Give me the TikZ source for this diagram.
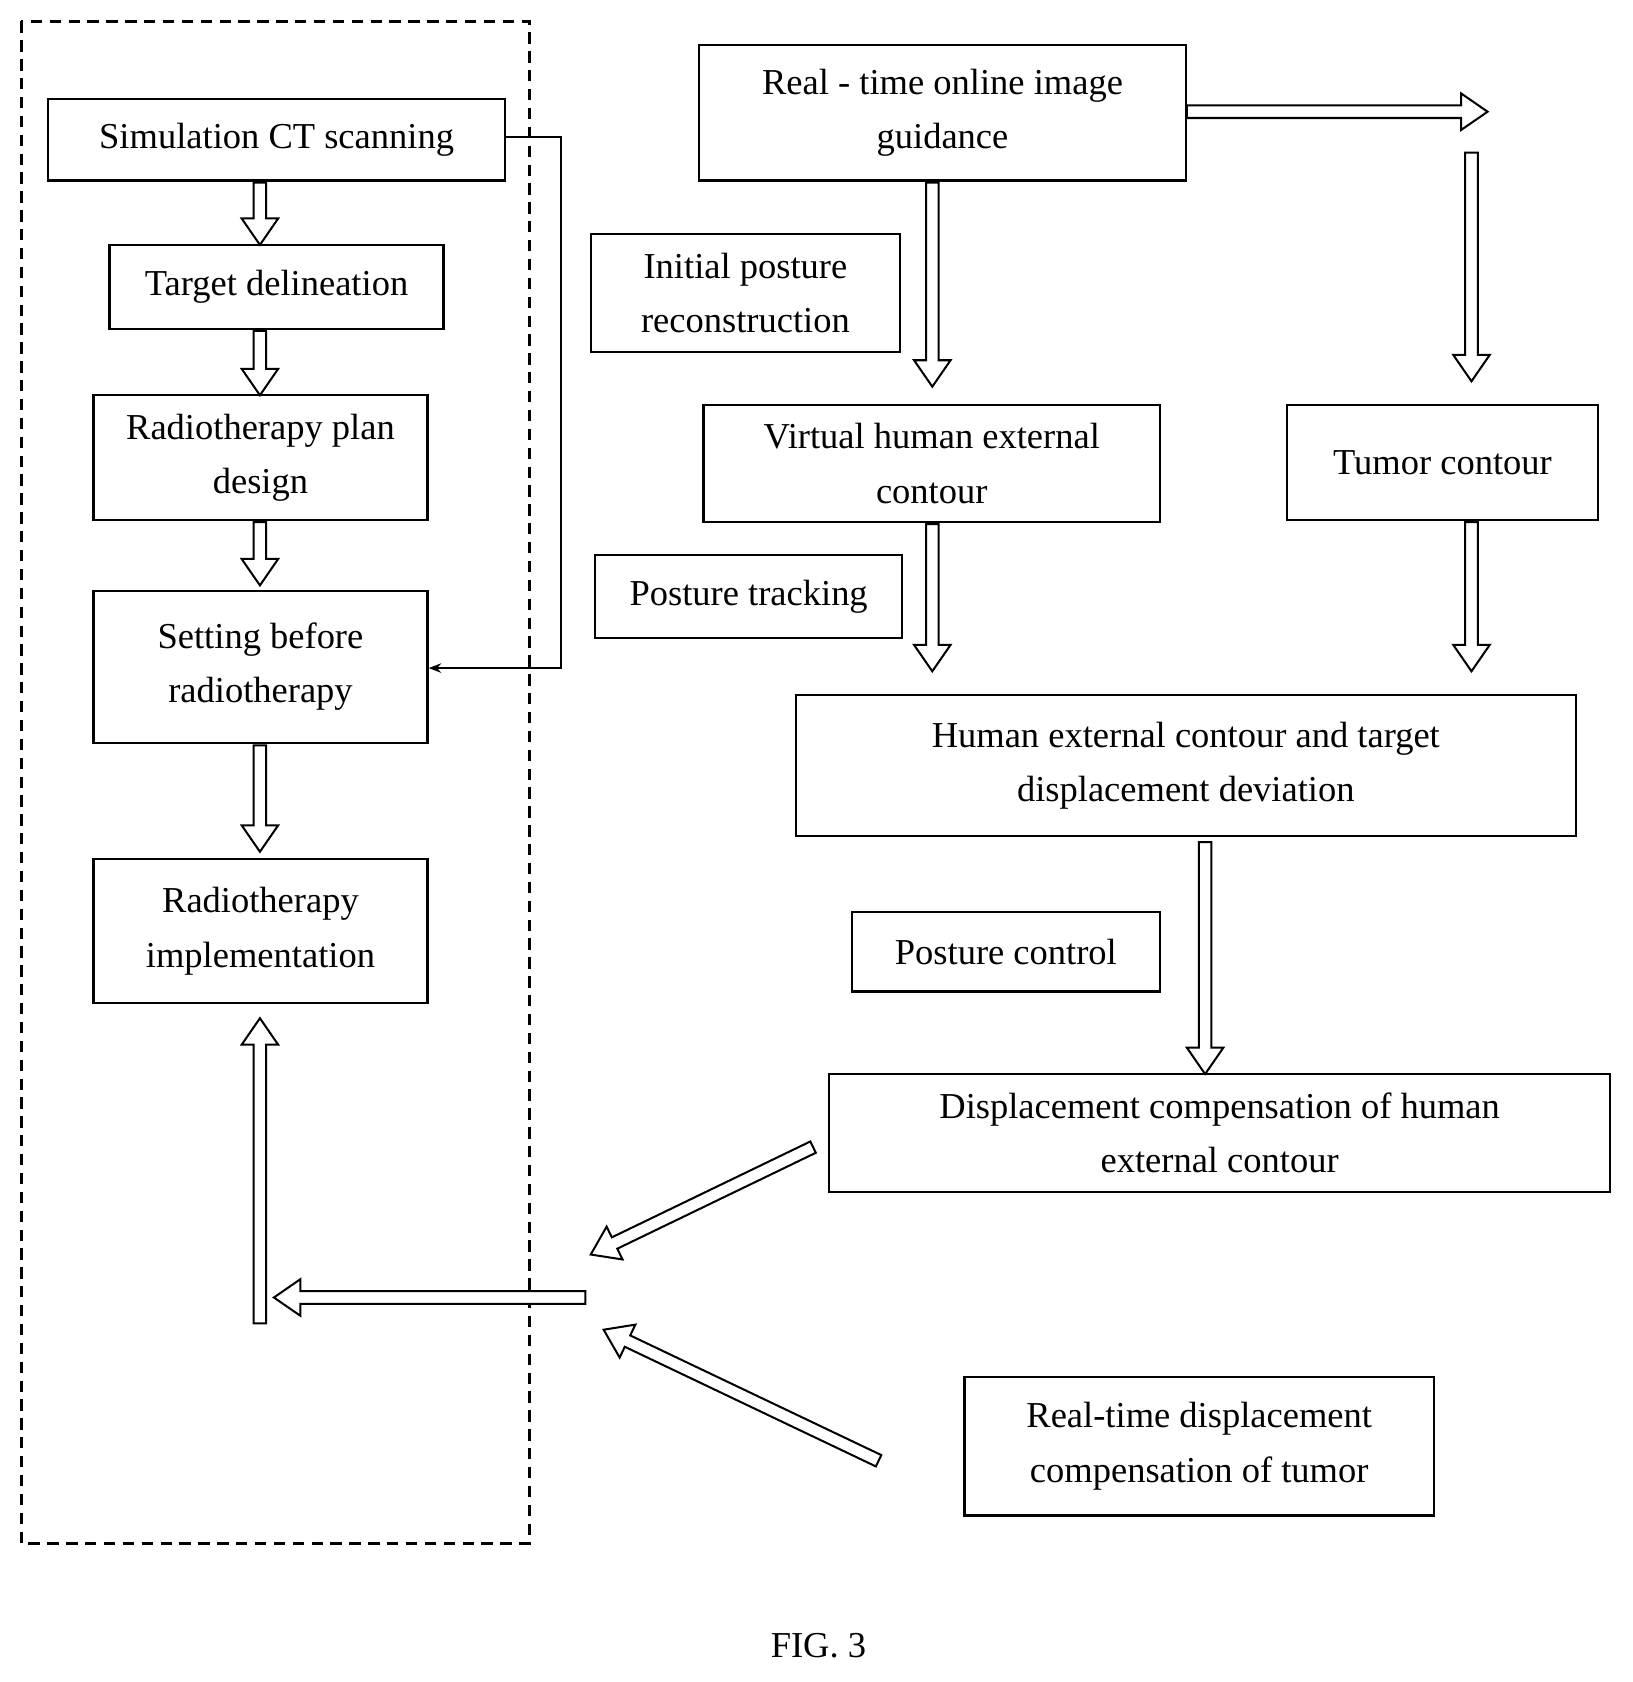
\documentclass[tikz,border=0pt]{standalone}
\usepackage{fontspec}
\setmainfont{Liberation Serif}
\usetikzlibrary{calc,arrows.meta}
\newcommand\harrow[2]{%
\draw[line width=1.6pt,fill=white,line join=miter] let \p1=(#1), \p2=(#2), \n1={atan2(\y2-\y1,\x2-\x1)}, \n2={veclen(\x2-\x1,\y2-\y1)} in
 ($(\p1)+(\n1-90:5pt)$) -- ($(\p1)+(\n1-90:5pt)+(\n1:\n2-21pt)$) -- ($(\p1)+(\n1-90:14.5pt)+(\n1:\n2-21pt)$) -- (\p2)
 -- ($(\p1)+(\n1+90:14.5pt)+(\n1:\n2-21pt)$) -- ($(\p1)+(\n1+90:5pt)+(\n1:\n2-21pt)$) -- ($(\p1)+(\n1+90:5pt)$) -- cycle;}
\begin{document}
\begin{tikzpicture}[x=0.03cm,y=-0.03cm]
\useasboundingbox (0,0) rectangle (1520,1566);
\draw[line width=1.8pt,dash pattern=on 9pt off 6pt] (20,20) rectangle (493,1437);
\def\B#1#2#3#4#5#6{\node[draw,line width=1.8pt,inner sep=0pt,align=center,font=\fontsize{29}{43}\selectfont,minimum width={(#4-#2)*0.03cm},minimum height={(#5-#3)*0.03cm}] (#1) at ({(#2+#4)/2},{(#3+#5)/2}) {#6};}
\B{sim}{45}{92}{470}{168}{Simulation CT scanning}
\B{tgt}{102}{228}{413}{306}{Target delineation}
\B{plan}{87}{368}{398}{484}{Radiotherapy plan\\design}
\B{set}{87}{550}{398}{692}{Setting before\\radiotherapy}
\B{impl}{87}{800}{398}{934}{Radiotherapy\\implementation}
\B{rt}{651}{42}{1104}{168}{Real - time online image\\guidance}
\B{init}{550}{218}{838}{328}{Initial posture\\reconstruction}
\B{virt}{655}{377}{1080}{486}{Virtual human external\\contour}
\B{tum}{1198}{377}{1488}{484}{Tumor contour}
\B{track}{554}{517}{840}{594}{Posture tracking}
\B{hum}{741}{647}{1467}{778}{Human external contour and target\\displacement deviation}
\B{ctrl}{793}{849}{1080}{923}{Posture control}
\B{disp}{772}{1000}{1499}{1110}{Displacement compensation of human\\external contour}
\B{rtd}{898}{1282}{1335}{1411}{Real-time displacement\\compensation of tumor}
\node[font=\fontsize{29}{34}\selectfont] (fig) at (762,1532) {FIG. 3};
\draw[line width=1.6pt,-{Stealth[length=10pt]}] (sim.east |- 0,128) -- (522,128) -- (522,622) -- (set.east |- 0,622);
\coordinate (c1) at (1385,104);
\coordinate (c2) at (1370,142);
\coordinate (c3) at (550,1168);
\coordinate (c4) at (545,1208);
\coordinate (c5) at (255,1208);
\coordinate (c6) at (562,1238);
\coordinate (c7) at (242,1232);
\coordinate (c8) at (757,1068);
\coordinate (c9) at (818,1360);
\harrow{242,170}{242,228}
\harrow{242,308}{242,368}
\harrow{242,486}{242,545}
\harrow{242,694}{242,793}
\harrow{rt.east |- c1}{c1}
\harrow{c2}{1370,355}
\harrow{868,170}{868,360}
\harrow{868,488}{868,625}
\harrow{1370,486}{1370,625}
\harrow{1122,784}{1122,1000}
\harrow{c8}{c3}
\harrow{c4}{c5}
\harrow{c9}{c6}
\harrow{c7}{242,948}
\end{tikzpicture}
\end{document}
